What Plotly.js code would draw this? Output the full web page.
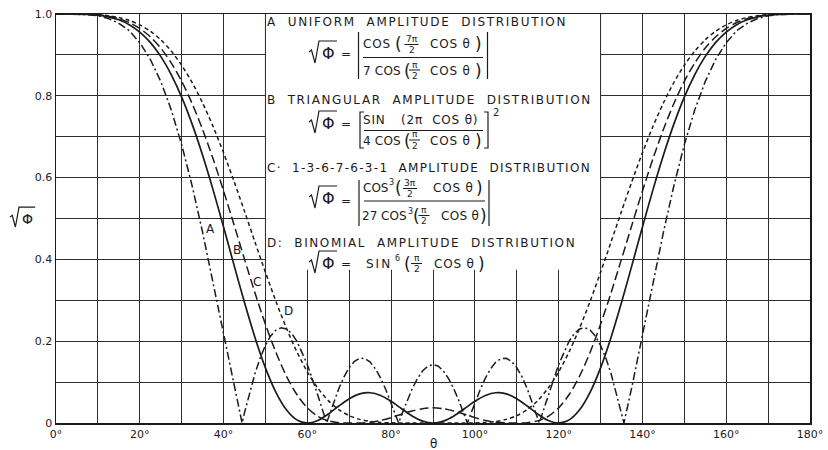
<!DOCTYPE html>
<html><head><meta charset="utf-8">
<script src="https://cdn.plot.ly/plotly-3.0.1.min.js"></script>
<style>html,body{margin:0;padding:0;background:#fff}#chart{width:828px;height:450px}</style>
</head><body><div id="chart"></div>
<script>
// ---------- data ----------
const theta = [0,2.5,5,7.5,10,12.5,15,17.5,20,22.5,25,27.5,30,32.5,35,37.5,40,42.5,45,47.5,50,52.5,55,57.5,60,62.5,65,67.5,70,72.5,75,77.5,80,82.5,85,87.5,90,
  92.5,95,97.5,100,102.5,105,107.5,110,112.5,115,117.5,120,122.5,125,127.5,130,132.5,135,137.5,140,142.5,145,147.5,150,152.5,155,157.5,160,162.5,165,167.5,170,172.5,175,177.5,180];

const curveB = [1.0000,1.0000,0.9998,0.9991,0.9972,0.9931,0.9858,0.9739,0.9559,0.9306,0.8964,0.8519,0.7968,0.7308,0.6546,0.5700,0.4793,0.3860,0.2946,0.2093,0.1348,0.0750,0.0323,0.0076,0.0000,0.0063,0.0220,0.0415,0.0594,0.0711,0.0739,0.0672,0.0530,0.0349,0.0173,0.0046,0.0000,
  0.0046,0.0173,0.0349,0.0530,0.0672,0.0739,0.0711,0.0594,0.0415,0.0220,0.0063,0.0000,0.0076,0.0323,0.0750,0.1348,0.2093,0.2946,0.3860,0.4793,0.5700,0.6546,0.7308,0.7968,0.8519,0.8964,0.9306,0.9559,0.9739,0.9858,0.9931,0.9972,0.9991,0.9998,1.0000,1.0000];

const curveC = [1.0000,1.0000,0.9998,0.9993,0.9978,0.9945,0.9886,0.9791,0.9647,0.9442,0.9167,0.8805,0.8354,0.7811,0.7175,0.6459,0.5674,0.4847,0.4006,0.3182,0.2412,0.1726,0.1148,0.0696,0.0370,0.0163,0.0052,0.0008,0.0000,0.0002,0.0019,0.0063,0.0132,0.0215,0.0294,0.0350,0.0370,
  0.0350,0.0294,0.0215,0.0132,0.0063,0.0019,0.0002,0.0000,0.0008,0.0052,0.0163,0.0370,0.0696,0.1148,0.1726,0.2412,0.3182,0.4006,0.4847,0.5674,0.6459,0.7175,0.7811,0.8354,0.8805,0.9167,0.9442,0.9647,0.9791,0.9886,0.9945,0.9978,0.9993,0.9998,1.0000,1.0000];

const curveD = [1.0000,1.0000,0.9999,0.9995,0.9983,0.9959,0.9914,0.9843,0.9734,0.9580,0.9371,0.9094,0.8747,0.8325,0.7824,0.7249,0.6606,0.5909,0.5175,0.4425,0.3684,0.2975,0.2321,0.1742,0.1250,0.0852,0.0547,0.0327,0.0180,0.0089,0.0038,0.0014,0.0004,0.0001,0.0000,0.0000,0.0000,
  0.0000,0.0000,0.0001,0.0004,0.0014,0.0038,0.0089,0.0180,0.0327,0.0547,0.0852,0.1250,0.1742,0.2321,0.2975,0.3684,0.4425,0.5175,0.5909,0.6606,0.7249,0.7824,0.8325,0.8747,0.9094,0.9371,0.9580,0.9734,0.9843,0.9914,0.9959,0.9983,0.9995,0.9999,1.0000,1.0000];

const thetaA = [0,2.5,5,7.5,10,12.5,15,17.5,20,22.5,25,27.5,30,32.5,35,37.5,40,42.5,44.42,45,46.25,47.5,48.75,50,51.25,52.5,53.75,55,56.25,57.5,60,61.25,62.5,63.75,64.62,65,66.25,67.5,68.75,70,71.25,72.5,73.75,75,76.25,77.5,78.75,80,81.25,81.79,82.5,83.75,85,86.25,87.5,88.75,90,
  91.25,92.5,93.75,95,96.25,97.5,98.21,98.75,100,101.25,102.5,103.75,105,106.25,107.5,108.75,110,111.25,112.5,113.75,115,115.38,116.25,117.5,118.75,120,122.5,123.75,125,126.25,127.5,128.75,130,131.25,132.5,133.75,135,135.58,137.5,140,142.5,145,147.5,150,152.5,155,157.5,160,162.5,165,167.5,170,172.5,175,177.5,180];

const curveA = [1.0000,1.0000,0.9997,0.9986,0.9955,0.9890,0.9773,0.9592,0.9297,0.8894,0.8353,0.7659,0.6806,0.5799,0.4659,0.3421,0.2143,0.0891,0.0000,0.0254,0.0741,0.1209,0.1591,0.1900,0.2128,0.2272,0.2329,0.2300,0.2189,0.2000,0.1429,0.1070,0.0681,0.0279,0.0000,0.0119,0.0496,0.0838,0.1127,0.1354,0.1508,0.1583,0.1575,0.1488,0.1325,0.1097,0.0814,0.0493,0.0150,0.0000,0.0197,0.0529,0.0829,0.1081,0.1270,0.1389,0.1429,
  0.1389,0.1270,0.1081,0.0829,0.0529,0.0197,0.0000,0.0150,0.0493,0.0814,0.1097,0.1325,0.1488,0.1575,0.1583,0.1508,0.1354,0.1127,0.0838,0.0496,0.0119,0.0000,0.0279,0.0681,0.1070,0.1429,0.2000,0.2189,0.2300,0.2329,0.2272,0.2128,0.1900,0.1591,0.1209,0.0741,0.0254,0.0000,0.0891,0.2143,0.3421,0.4659,0.5799,0.6806,0.7659,0.8353,0.8894,0.9297,0.9592,0.9773,0.9890,0.9955,0.9986,0.9997,1.0000,1.0000];

const xTickVals = [0,20,40,60,80,100,120,140,160,180];
const xTickText = ['0°','20°','40°','60°','80°','100°','120°','140°','160°','180°'];
const yTickVals = [0,0.2,0.4,0.6,0.8,1.0];
const yTickText = ['0','0.2','0.4','0.6','0.8','1.0'];

const curveLabels = ['A','B','C','D'];
const legendTitles = [
  'A  UNIFORM  AMPLITUDE  DISTRIBUTION',
  'B  TRIANGULAR  AMPLITUDE  DISTRIBUTION',
  'C·  1-3-6-7-6-3-1  AMPLITUDE  DISTRIBUTION',
  'D:  BINOMIAL  AMPLITUDE  DISTRIBUTION'
];

// ---------- layout helpers ----------
const W=828,H=450,L=56,R=18,T=14,B=27;
const PW=W-L-R, PH=H-T-B;
const px = x => (x-L)/PW;
const py = y => 1-(y-T)/PH;
const FONT = 'DejaVu Sans, sans-serif';
const INK = '#1b1b1b';
const ann = [], shapes = [];

function txt(x,y,s,size,anchor,ls){
  ann.push({xref:'paper',yref:'paper',x:px(x),y:py(y),
    text: ls ? '<span style="letter-spacing:'+ls+'px">'+s+'</span>' : s,
    showarrow:false,xanchor:anchor||'left',yanchor:'middle',borderpad:0,
    font:{family:FONT,size:size||12,color:INK}});
}
function ln(x0,y0,x1,y1,w){
  shapes.push({type:'line',xref:'paper',yref:'paper',x0:px(x0),y0:py(y0),x1:px(x1),y1:py(y1),
    line:{color:INK,width:w||1.2}});
}
function path(pts,w){
  const d = pts.map((p,i)=>(i?'L':'M')+px(p[0]).toFixed(5)+','+py(p[1]).toFixed(5)).join(' ');
  shapes.push({type:'path',xref:'paper',yref:'paper',path:d,line:{color:INK,width:w||1.2}});
}
function sqrtPhi(x0,yc,scale){
  const s = scale||1;
  path([[x0,yc-1*s],[x0+2.5*s,yc-3*s],[x0+6*s,yc+10*s],[x0+10*s,yc-12*s],[x0+28*s,yc-12*s]],1.2);
  txt(x0+19*s,yc+0.5,'Φ',Math.round(16*s),'center');
}
function smallFrac(xc,yc,top,bot,half){
  txt(xc,yc-5.5,top,9,'center');
  ln(xc-half,yc,xc+half,yc,1);
  txt(xc,yc+5.5,bot,9,'center');
}

// white panel hiding the grid behind the formulas, with its edge lines
shapes.push({type:'rect',xref:'x',yref:'y',x0:50,x1:130,y0:0.375,y1:1,fillcolor:'#ffffff',line:{width:0},layer:'between'});
shapes.push({type:'line',xref:'x',yref:'y',x0:50,x1:50,y0:0.375,y1:1,line:{color:'#2a2a2a',width:1},layer:'between'});
shapes.push({type:'line',xref:'x',yref:'y',x0:130,x1:130,y0:0.375,y1:1,line:{color:'#2a2a2a',width:1},layer:'between'});

// titles of the four distributions
const titleY = [22, 99.5, 168, 242.5];
const titleLs = [1.65, 1.6, 1.3, 1.6];
legendTitles.forEach((s,i)=>txt(266,titleY[i],s,12,'left',titleLs[i]));

// ---- formula A ----
sqrtPhi(309,53);
txt(346,54,'=',12,'center');
ln(358.5,32,358.5,79); ln(487.5,32,487.5,79);
txt(362,44,'COS',12,'left',0.8);
txt(398,44,'(',17,'center');
smallFrac(411.5,44.5,'7π','2',7);
txt(429,44,'COS θ',12,'left',0.8);
txt(478,44,')',17,'center');
ln(363,57.5,483,57.5,1.2);
txt(362,71,'7 COS',12,'left',0.2);
txt(407,71,'(',17,'center');
smallFrac(414.5,70,'π','2',5.5);
txt(429,71,'COS θ',12,'left',0.8);
txt(478,71,')',17,'center');

// ---- formula B ----
sqrtPhi(309,123);
txt(346,124,'=',12,'center');
path([[364,112],[360,112],[360,148],[364,148]],1.2);
path([[484,112],[488,112],[488,148],[484,148]],1.2);
txt(496,113,'2',10,'center');
txt(362,120,'SIN',12,'left',0.8);
txt(400,120,'(2π  COS θ)',12,'left',0.8);
ln(364,130.5,483,130.5,1.2);
txt(362,141,'4 COS',12,'left',0.2);
txt(407,141,'(',17,'center');
smallFrac(414.5,140,'π','2',5.5);
txt(429,141,'COS θ',12,'left',0.8);
txt(478,141,')',17,'center');

// ---- formula C ----
sqrtPhi(309,198);
txt(346,201,'=',12,'center');
ln(359,180,359,226); ln(489,180,489,226);
txt(362,188,'COS',12,'left');
txt(391.5,183,'3',8,'center');
txt(398,188,'(',17,'center');
smallFrac(410,188.5,'3π','2',7);
txt(432,188,'COS θ',12,'left',0.8);
txt(479,188,')',17,'center');
ln(364,201,485,201,1.2);
txt(361,216,'27 COS',12,'left');
txt(410,211,'3',8,'center');
txt(416,216,'(',17,'center');
smallFrac(424,215.5,'π','2',5.5);
txt(440,216,'COS θ',12,'left',0.3);
txt(483.5,216,')',17,'center');

// ---- formula D ----
sqrtPhi(309,263);
txt(346,264,'=',12,'center');
txt(365,264,'SIN',12,'left',2);
txt(397,258.5,'6',8,'center');
txt(407,264,'(',17,'center');
smallFrac(416.5,263.5,'π','2',5.5);
txt(433,264,'COS θ',12,'left',0.8);
txt(481,264,')',17,'center');

// curve letters
const labelPos = [[210,229],[237,250],[257,282],[288,311]];
curveLabels.forEach((s,i)=>txt(labelPos[i][0],labelPos[i][1],s,12,'center'));

// axis titles
sqrtPhi(10,218,0.9);
txt(433,444,'θ',12,'center');

// ---------- traces ----------
const lineBase = {color:INK,width:1.5};
const traces = [
  {x:thetaA,y:curveA,mode:'lines',line:Object.assign({},lineBase,{dash:'8px,3px,2px,3px'}),name:'A'},
  {x:theta,y:curveB,mode:'lines',line:Object.assign({},lineBase,{width:1.7,shape:'spline',smoothing:0.8}),name:'B'},
  {x:theta,y:curveC,mode:'lines',line:Object.assign({},lineBase,{dash:'9px,4px',shape:'spline',smoothing:0.8}),name:'C'},
  {x:theta,y:curveD,mode:'lines',line:Object.assign({},lineBase,{dash:'4px,3px',shape:'spline',smoothing:0.8}),name:'D'}
];

const axisCommon = {showgrid:true,gridcolor:'#2e2e2e',gridwidth:1,showline:true,mirror:true,linecolor:INK,linewidth:1.5,
  zeroline:false,ticks:'',tickfont:{family:FONT,size:11,color:INK},fixedrange:true};

const layout = {
  width:W,height:H,margin:{l:L,r:R,t:T,b:B},
  paper_bgcolor:'#ffffff',plot_bgcolor:'#ffffff',showlegend:false,
  xaxis:Object.assign({},axisCommon,{range:[0,180],tickmode:'array',tickvals:xTickVals,ticktext:xTickText,
    minor:{dtick:10,tick0:0,showgrid:true,gridcolor:'#2e2e2e',gridwidth:1,ticks:''}}),
  yaxis:Object.assign({},axisCommon,{range:[0,1],tickmode:'array',tickvals:yTickVals,ticktext:yTickText,
    minor:{dtick:0.1,tick0:0,showgrid:true,gridcolor:'#2e2e2e',gridwidth:1,ticks:''}}),
  annotations:ann,shapes:shapes
};

Plotly.newPlot('chart',traces,layout,{displayModeBar:false,staticPlot:true});
</script>
</body></html>
